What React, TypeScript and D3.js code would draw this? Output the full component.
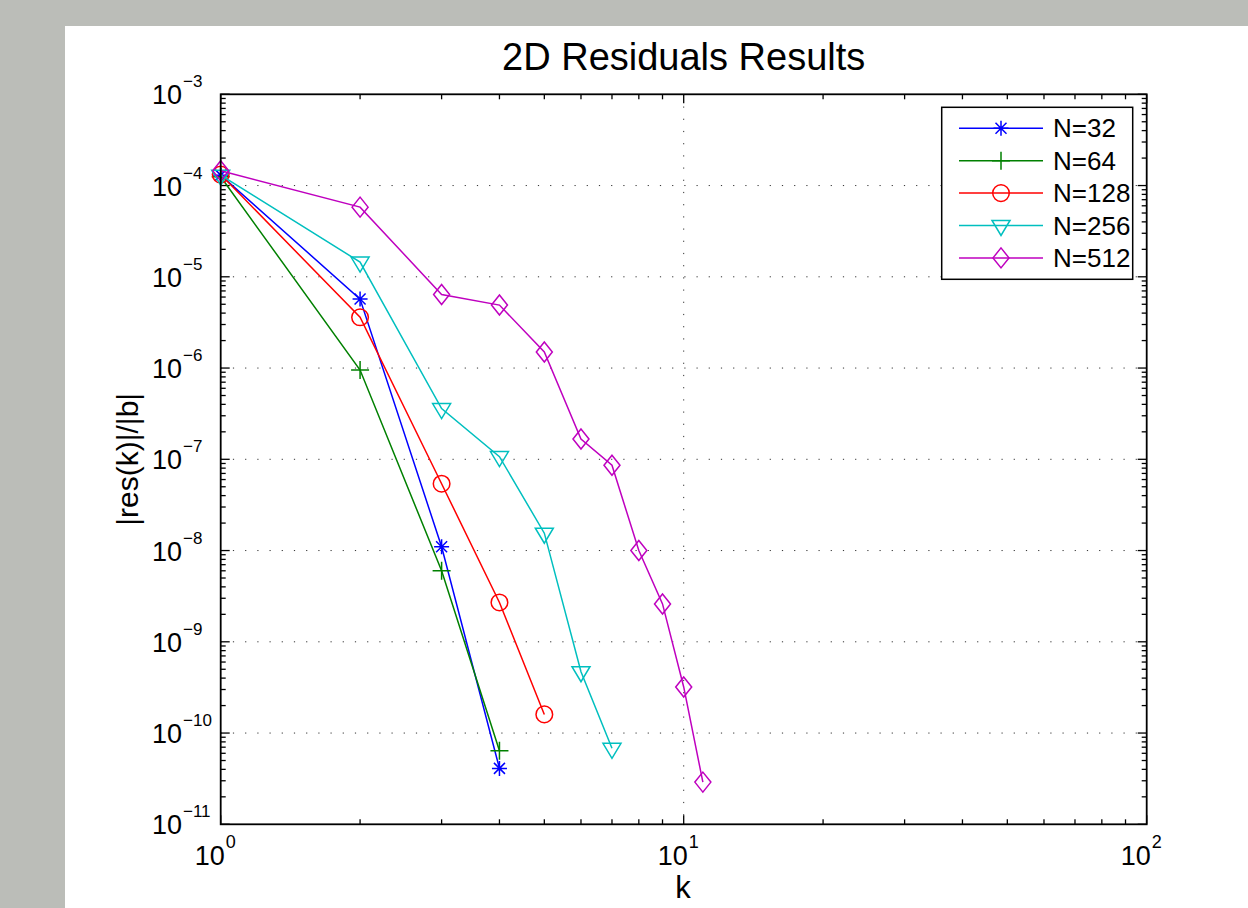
import React from 'react';
import * as d3 from 'd3';

// iteration index k for each series
const kValues = [1, 2, 3, 4, 5, 6, 7, 8, 9, 10, 11];

const seriesNames = ['N=32', 'N=64', 'N=128', 'N=256', 'N=512'];
const n32 = [1.3e-4, 5.7e-6, 1.1e-8, 4.1e-11];
const n64 = [1.25e-4, 9.5e-7, 6.0e-9, 6.4e-11];
const n128 = [1.32e-4, 3.6e-6, 5.4e-8, 2.7e-9, 1.6e-10];
const n256 = [1.3e-4, 1.45e-5, 3.6e-7, 1.07e-7, 1.55e-8, 4.7e-10, 6.8e-11];
const n512 = [1.45e-4, 5.8e-5, 6.4e-6, 4.9e-6, 1.5e-6, 1.67e-7, 8.6e-8, 1.0e-8, 2.6e-9, 3.2e-10, 2.9e-11];

const xTickExps = [0, 1, 2];
const yTickExps = [-3, -4, -5, -6, -7, -8, -9, -10, -11];

const colors = ['#0000ff', '#008000', '#ff0000', '#00bfbf', '#bf00bf'];
const markers = ['star', 'plus', 'circle', 'tri', 'diamond'];
const allSeries = [n32, n64, n128, n256, n512];

const W = 1248;
const H = 908;
const left = 220.7, right = 1146.7, top = 94.3, bottom = 824.3;

const x = d3.scaleLog().domain([1, 100]).range([left, right]);
const y = d3.scaleLog().domain([1e-11, 1e-3]).range([bottom, top]);

const font = '"Liberation Sans", Arial, Helvetica, sans-serif';

function Marker({ type, cx, cy, color }: { type: string; cx: number; cy: number; color: string }) {
  const common = { fill: 'none', stroke: color, strokeWidth: 1.5 };
  if (type === 'circle') return <circle cx={cx} cy={cy} r={8.3} {...common} />;
  if (type === 'plus')
    return <path d={`M${cx - 9},${cy}H${cx + 9}M${cx},${cy - 9}V${cy + 9}`} {...common} />;
  if (type === 'star') {
    const r = 7.5, d = 5.5;
    return (
      <path
        d={`M${cx - r},${cy}H${cx + r}M${cx},${cy - r}V${cy + r}M${cx - d},${cy - d}L${cx + d},${cy + d}M${cx - d},${cy + d}L${cx + d},${cy - d}`}
        {...common}
      />
    );
  }
  if (type === 'tri')
    return <path d={`M${cx - 9},${cy - 5}L${cx + 9},${cy - 5}L${cx},${cy + 10}Z`} {...common} />;
  return <path d={`M${cx},${cy - 10}L${cx + 8},${cy}L${cx},${cy + 10}L${cx - 8},${cy}Z`} {...common} />;
}

export default function App() {
  const line = d3
    .line<[number, number]>()
    .x((d) => x(d[0]))
    .y((d) => y(d[1]));

  const minorX: number[] = [];
  [1, 10].forEach((b) => {
    for (let m = 2; m <= 9; m++) minorX.push(b * m);
  });
  const minorY: number[] = [];
  for (let e = -11; e < -3; e++) {
    for (let m = 2; m <= 9; m++) minorY.push(m * Math.pow(10, e));
  }

  const legendX = 941.7, legendY = 107.3, legendW = 191, legendH = 172;
  const rowY = (i: number) => 128.3 + i * 32.4;

  return (
    <svg
      width={W}
      height={H}
      style={{ position: 'absolute', left: 0, top: 0, fontFamily: font }}
    >
      <rect x={0} y={0} width={W} height={H} fill="#bbbdb8" />
      <rect x={65} y={26} width={W - 65} height={H - 26} fill="#ffffff" />

      {/* grid */}
      <g stroke="#333" strokeWidth={1} strokeDasharray="1.2,11">
        {yTickExps.slice(1, -1).map((e) => (
          <line key={e} x1={left} x2={right} y1={y(Math.pow(10, e))} y2={y(Math.pow(10, e))} />
        ))}
        <line x1={x(10)} x2={x(10)} y1={top} y2={bottom} />
      </g>

      {/* ticks */}
      <g stroke="#000" strokeWidth={1.3}>
        {yTickExps.map((e) => {
          const yy = y(Math.pow(10, e));
          return (
            <g key={e}>
              <line x1={left} x2={left + 9} y1={yy} y2={yy} />
              <line x1={right} x2={right - 9} y1={yy} y2={yy} />
            </g>
          );
        })}
        {minorY.map((v, i) => {
          const yy = y(v);
          return (
            <g key={i}>
              <line x1={left} x2={left + 5} y1={yy} y2={yy} />
              <line x1={right} x2={right - 5} y1={yy} y2={yy} />
            </g>
          );
        })}
        {xTickExps.map((e) => {
          const xx = x(Math.pow(10, e));
          return (
            <g key={e}>
              <line x1={xx} x2={xx} y1={bottom} y2={bottom - 9} />
              <line x1={xx} x2={xx} y1={top} y2={top + 9} />
            </g>
          );
        })}
        {minorX.map((v, i) => {
          const xx = x(v);
          return (
            <g key={i}>
              <line x1={xx} x2={xx} y1={bottom} y2={bottom - 5} />
              <line x1={xx} x2={xx} y1={top} y2={top + 5} />
            </g>
          );
        })}
      </g>

      {/* series */}
      {allSeries.map((vals, si) => {
        const pts: [number, number][] = vals.map((v, i) => [kValues[i], v]);
        return (
          <g key={si}>
            <path d={line(pts) || ''} fill="none" stroke={colors[si]} strokeWidth={1.5} />
            {pts.map((p, i) => (
              <Marker key={i} type={markers[si]} cx={x(p[0])} cy={y(p[1])} color={colors[si]} />
            ))}
          </g>
        );
      })}

      {/* frame */}
      <rect
        x={left}
        y={top}
        width={right - left}
        height={bottom - top}
        fill="none"
        stroke="#000"
        strokeWidth={1.8}
      />

      {/* y tick labels */}
      {yTickExps.map((e) => {
        const yy = y(Math.pow(10, e));
        return (
          <text key={e} x={182} y={yy + 10} textAnchor="end" fontSize={27} fill="#000">
            10
            <tspan x={183} dy={-17} fontSize={17} textAnchor="start">
              {'\u2212' + Math.abs(e)}
            </tspan>
          </text>
        );
      })}

      {/* x tick labels */}
      {xTickExps.map((e) => {
        const xx = x(Math.pow(10, e));
        return (
          <g key={e}>
            <text x={xx + 4} y={865} textAnchor="end" fontSize={27} fill="#000">
              10
            </text>
            <text x={xx + 5} y={848} fontSize={18} fill="#000">
              {e}
            </text>
          </g>
        );
      })}

      {/* title and axis labels */}
      <text x={(left + right) / 2} y={70} textAnchor="middle" fontSize={38} fill="#000">
        2D Residuals Results
      </text>
      <text x={683} y={898} textAnchor="middle" fontSize={31} fill="#000">
        k
      </text>
      <text
        transform={`translate(138,${(top + bottom) / 2}) rotate(-90)`}
        textAnchor="middle"
        fontSize={30}
        fill="#000"
      >
        |res(k)|/|b|
      </text>

      {/* legend */}
      <rect
        x={legendX}
        y={legendY}
        width={legendW}
        height={legendH}
        fill="#fff"
        stroke="#000"
        strokeWidth={1.5}
      />
      {seriesNames.map((name, i) => (
        <g key={name}>
          <line x1={959} x2={1043} y1={rowY(i)} y2={rowY(i)} stroke={colors[i]} strokeWidth={1.5} />
          <Marker type={markers[i]} cx={1001} cy={rowY(i)} color={colors[i]} />
          <text x={1053} y={rowY(i) + 9} fontSize={26} fill="#000">
            {name}
          </text>
        </g>
      ))}
    </svg>
  );
}
